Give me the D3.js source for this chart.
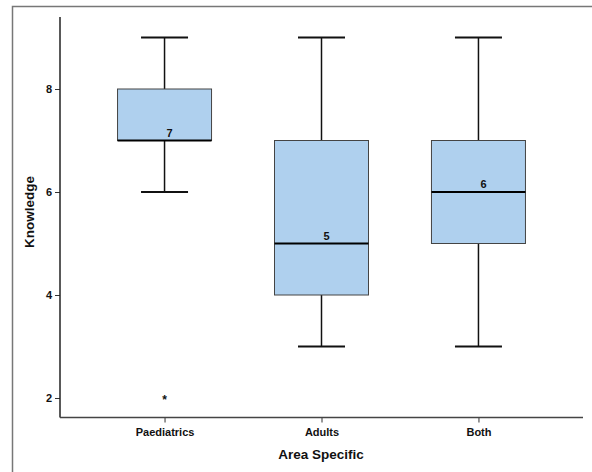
<!DOCTYPE html>
<html>
<head>
<meta charset="utf-8">
<script src="https://cdn.jsdelivr.net/npm/d3@7"></script>
<style>
  html, body { margin: 0; padding: 0; background: #fff; }
  svg text { font-family: Arial, "Liberation Sans", sans-serif; font-weight: bold; fill: #111; }
</style>
</head>
<body>
<script>
const categories = ["Paediatrics", "Adults", "Both"];
const whiskerLow = [6, 3, 3];
const q1 = [7, 4, 5];
const medians = [7, 5, 6];
const q3 = [8, 7, 7];
const whiskerHigh = [9, 9, 9];
const outliers = [{cat: "Paediatrics", value: 2}];
const yTicks = [2, 4, 6, 8];

const W = 592, H = 472;
const svg = d3.select("body").append("svg").attr("width", W).attr("height", H);

// outer frame
svg.append("path").attr("d", `M12.5,${H+2} V6.5 H${W+2}`)
  .attr("fill", "none").attr("stroke", "#777").attr("stroke-width", 1.5);

const x0 = 60, x1 = 583, yTop = 17, yBot = 417.5;
const y = d3.scaleLinear().domain([2, 8]).range([398, 89]);
const x = d3.scalePoint().domain(categories).range([x0, x1]).padding(0.666);

const data = categories.map((c, i) => ({
  c, lo: whiskerLow[i], q1: q1[i], med: medians[i], q3: q3[i], hi: whiskerHigh[i]
}));

const boxW = 94, capW = 47;

const g = svg.append("g");
data.forEach(d => {
  const cx = x(d.c);
  g.append("line").attr("x1", cx).attr("x2", cx).attr("y1", y(d.hi)).attr("y2", y(d.q3))
    .attr("stroke", "#111").attr("stroke-width", 1.5);
  g.append("line").attr("x1", cx).attr("x2", cx).attr("y1", y(d.q1)).attr("y2", y(d.lo))
    .attr("stroke", "#111").attr("stroke-width", 1.5);
  [d.hi, d.lo].forEach(v => {
    g.append("line").attr("x1", cx - capW/2).attr("x2", cx + capW/2)
      .attr("y1", y(v)).attr("y2", y(v)).attr("stroke", "#111").attr("stroke-width", 1.8);
  });
  g.append("rect").attr("x", cx - boxW/2).attr("y", y(d.q3))
    .attr("width", boxW).attr("height", y(d.q1) - y(d.q3))
    .attr("fill", "#afd0ee").attr("stroke", "#444").attr("stroke-width", 1);
  g.append("line").attr("x1", cx - boxW/2).attr("x2", cx + boxW/2)
    .attr("y1", y(d.med)).attr("y2", y(d.med)).attr("stroke", "#000").attr("stroke-width", 2.2);
  g.append("text").attr("x", cx + 5).attr("y", y(d.med) - 4)
    .attr("text-anchor", "middle").attr("font-size", 11).text(d.med);
});

outliers.forEach(o => {
  g.append("text").attr("x", x(o.cat)).attr("y", y(o.value) + 6)
    .attr("text-anchor", "middle").attr("font-size", 12).attr("font-weight", "normal").text("*");
});

const yAxis = d3.axisLeft(y).tickValues(yTicks).tickFormat(d3.format("d")).tickSize(5).tickPadding(3);
const ya = svg.append("g").attr("transform", `translate(${x0},0)`).call(yAxis);
ya.select(".domain").remove();
ya.selectAll("text").attr("font-size", 11).attr("font-family", "Arial, 'Liberation Sans', sans-serif").attr("font-weight", "bold").attr("fill", "#111");
ya.selectAll("line").attr("stroke", "#333");
svg.append("line").attr("x1", x0).attr("x2", x0).attr("y1", yTop).attr("y2", yBot)
  .attr("stroke", "#222").attr("stroke-width", 1.5);

const xAxis = d3.axisBottom(x).tickSize(5).tickPadding(6);
const xa = svg.append("g").attr("transform", `translate(0,${yBot})`).call(xAxis);
xa.select(".domain").remove();
xa.selectAll("text").attr("font-size", 11).attr("font-family", "Arial, 'Liberation Sans', sans-serif").attr("font-weight", "bold").attr("fill", "#111");
xa.selectAll("line").attr("stroke", "#333");
svg.append("line").attr("x1", x0).attr("x2", x1).attr("y1", yBot).attr("y2", yBot)
  .attr("stroke", "#444").attr("stroke-width", 1.5);

svg.append("text").attr("x", 321).attr("y", 459).attr("text-anchor", "middle")
  .attr("font-size", 13.5).text("Area Specific");
svg.append("text").attr("transform", "translate(34,212) rotate(-90)").attr("text-anchor", "middle")
  .attr("font-size", 13.5).text("Knowledge");
</script>
</body>
</html>
